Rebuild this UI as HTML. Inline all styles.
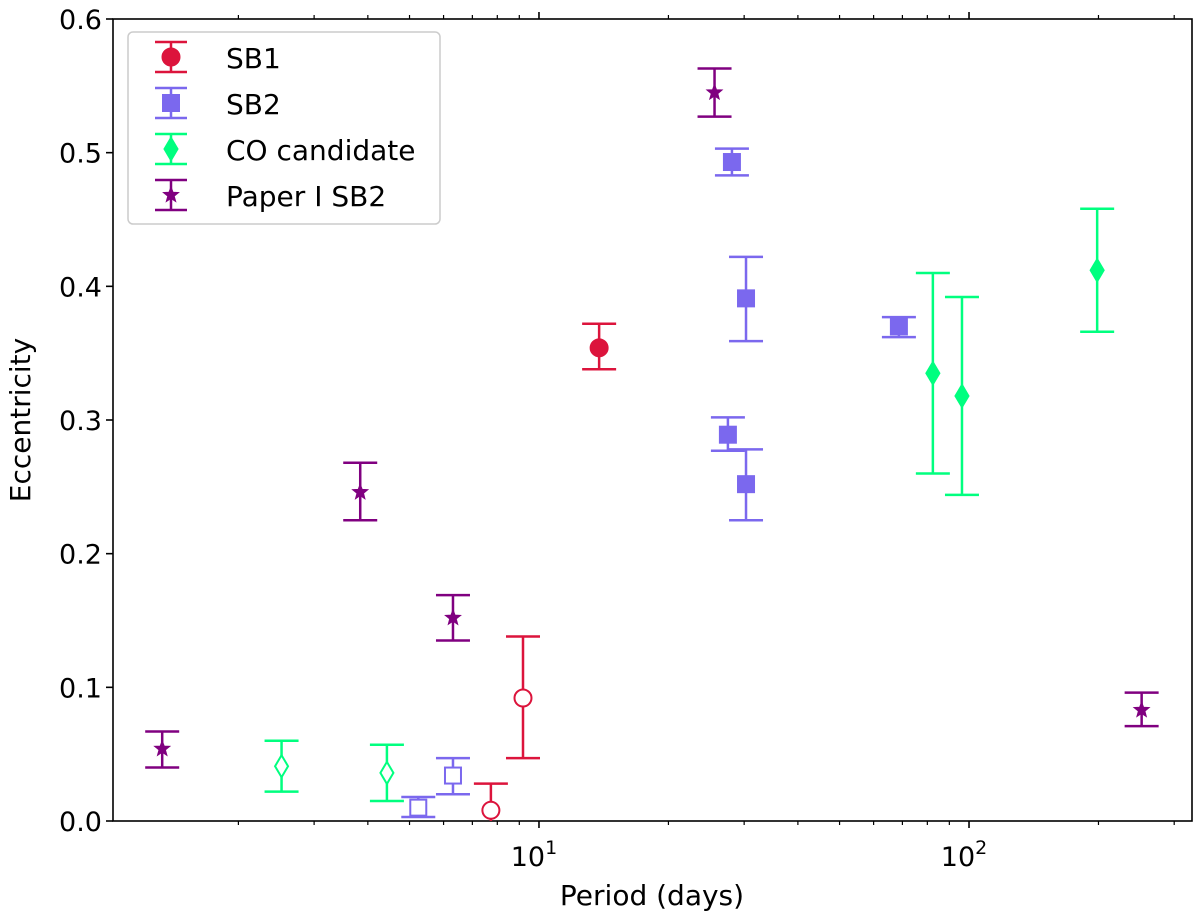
<!DOCTYPE html>
<html><head><meta charset="utf-8"><style>
html,body{margin:0;padding:0;background:#fff;}
svg{display:block;font-family:"DejaVu Sans","Liberation Sans",sans-serif;}
</style></head><body>
<svg id="chart" width="1200" height="923" viewBox="0 0 1200 923">
<defs><clipPath id="plotclip"><rect x="113" y="19" width="1079" height="802"/></clipPath></defs>
<g id="axes"></g>
<g id="marks" clip-path="url(#plotclip)"></g>
<g id="legend"></g>
</svg>
<script>
const sb1Period=[13.8,9.18,7.73];
const sb1Ecc=[0.354,0.092,0.008];
const sb1Lo=[0.338,0.047,-0.012];
const sb1Hi=[0.372,0.138,0.028];
const sb1Open=[false,true,true];
const sb2Period=[28.1,30.3,27.5,30.3,68.7,5.24,6.31];
const sb2Ecc=[0.493,0.391,0.289,0.252,0.370,0.010,0.034];
const sb2Lo=[0.483,0.359,0.277,0.225,0.362,0.003,0.020];
const sb2Hi=[0.503,0.422,0.302,0.278,0.377,0.018,0.047];
const sb2Open=[false,false,false,false,false,true,true];
const coPeriod=[82.4,96.3,198.6,2.52,4.43];
const coEcc=[0.335,0.318,0.412,0.041,0.036];
const coLo=[0.260,0.244,0.366,0.022,0.015];
const coHi=[0.410,0.392,0.458,0.060,0.057];
const coOpen=[false,false,false,true,true];
const p1Period=[1.33,3.84,6.31,25.6,252];
const p1Ecc=[0.054,0.246,0.152,0.545,0.083];
const p1Lo=[0.040,0.225,0.135,0.527,0.071];
const p1Hi=[0.067,0.268,0.169,0.563,0.096];
const yTicks=[0,0.1,0.2,0.3,0.4,0.5,0.6];
const yTickLabels=["0.0","0.1","0.2","0.3","0.4","0.5","0.6"];
const xMajor=[10,100];

const L=113,R=1192,T=19,B=821;
const xMin=1.022,xMax=330;
function xs(v){return L+(Math.log10(v)-Math.log10(xMin))/(Math.log10(xMax)-Math.log10(xMin))*(R-L);}
function ys(v){return B-(v-0)/(0.6-0)*(B-T);}
const NS="http://www.w3.org/2000/svg";
function mk(tag,attrs,parent){const e=document.createElementNS(NS,tag);for(const k in attrs)e.setAttribute(k,attrs[k]);parent.appendChild(e);return e;}
const axes=document.getElementById('axes'),marks=document.getElementById('marks'),legend=document.getElementById('legend');

const fr=mk('rect',{x:L,y:T,width:R-L,height:B-T,fill:'none',stroke:'#000','stroke-width':1.6},axes);


yTicks.forEach((v,i)=>{
 const y=ys(v);
 const t=mk('line',{x1:L-7,x2:L,y1:y,y2:y,stroke:'#000','stroke-width':1.6},axes);
 
 
 const tx=mk('text',{x:L-11,y:y+10,'text-anchor':'end','font-size':27},axes);
 tx.textContent=yTickLabels[i];
 
 
});
for(let d=0;d<=2;d++){for(let m=1;m<=9;m++){
 const v=m*Math.pow(10,d); if(v<xMin||v>xMax)continue;
 const x=xs(v); const major=(m===1);
 const len=major?7:4;
 const t1=mk('line',{x1:x,x2:x,y1:B,y2:B+len,stroke:'#000','stroke-width':major?1.6:1.2},axes);
 
 
 const t2=mk('line',{x1:x,x2:x,y1:T,y2:T-len,stroke:'#000','stroke-width':major?1.6:1.2},axes);
 
 
}}
xMajor.forEach(v=>{
 const x=xs(v);
 const tx=mk('text',{x:x-5,y:B+45,'text-anchor':'middle','font-size':27},axes);
 tx.textContent='10';
 const sup=mk('tspan',{dy:-12,'font-size':19},tx);
 sup.textContent=String(Math.round(Math.log10(v)));
 
 
});
const xl=mk('text',{x:652,y:905,'text-anchor':'middle','font-size':28},axes);
xl.textContent='Period (days)';


const yl=mk('text',{x:30,y:(T+B)/2,'text-anchor':'middle','font-size':28,transform:`rotate(-90 30 ${(T+B)/2})`},axes);
yl.textContent='Eccentricity';



function marker(shape,cx,cy,color,open,parent,s){
 s=s||1;
 let e;
 const fill=open?'#fff':color;
 if(shape==='circle')e=mk('circle',{cx,cy,r:8.5*s,fill,stroke:color,'stroke-width':2},parent);
 else if(shape==='square')e=mk('rect',{x:cx-8*s,y:cy-8*s,width:16*s,height:16*s,fill,stroke:color,'stroke-width':2},parent);
 else if(shape==='diamond'){const w=6.5*s,h=11*s;e=mk('polygon',{points:`${cx},${cy-h} ${cx+w},${cy} ${cx},${cy+h} ${cx-w},${cy}`,fill,stroke:color,'stroke-width':2},parent);}
 else {let pts=[];for(let i=0;i<10;i++){const a=-Math.PI/2+i*Math.PI/5;const r=(i%2?3.4:8)*s;pts.push((cx+r*Math.cos(a)).toFixed(1)+','+(cy+r*Math.sin(a)).toFixed(1));}
  e=mk('polygon',{points:pts.join(' '),fill,stroke:color,'stroke-width':1},parent);}
 return e;
}
function errbar(x,lo,hi,color,parent){
 const g=mk('g',{},parent);
 mk('line',{x1:x,x2:x,y1:ys(lo),y2:ys(hi),stroke:color,'stroke-width':2.5},g);
 mk('line',{x1:x-17,x2:x+17,y1:ys(lo),y2:ys(lo),stroke:color,'stroke-width':2.5},g);
 mk('line',{x1:x-17,x2:x+17,y1:ys(hi),y2:ys(hi),stroke:color,'stroke-width':2.5},g);
 return g;
}
function series(name,P,E,Lo,Hi,Op,color,shape){
 P.forEach((p,i)=>{
  const g=mk('g',{},marks);
  
  
  const x=xs(p);
  errbar(x,Lo[i],Hi[i],color,g);
  marker(shape,x,ys(E[i]),color,Op?Op[i]:false,g);
 });
}
series('sb1',sb1Period,sb1Ecc,sb1Lo,sb1Hi,sb1Open,'#dc143c','circle');
series('sb2',sb2Period,sb2Ecc,sb2Lo,sb2Hi,sb2Open,'#7b68ee','square');
series('co-candidate',coPeriod,coEcc,coLo,coHi,coOpen,'#00ff7f','diamond');
series('paper1-sb2',p1Period,p1Ecc,p1Lo,p1Hi,null,'#800080','star');

const lb=mk('rect',{x:128,y:32,width:312,height:192,rx:5,fill:'#fff','fill-opacity':0.8,stroke:'#ccc','stroke-width':1.5},legend);


const entries=[['SB1','#dc143c','circle'],['SB2','#7b68ee','square'],['CO candidate','#00ff7f','diamond'],['Paper I SB2','#800080','star']];
entries.forEach((en,i)=>{
 const cy=57+i*46;
 const g=mk('g',{},legend);
 
 
 mk('line',{x1:171,x2:171,y1:cy-15,y2:cy+15,stroke:en[1],'stroke-width':2.5},g);
 mk('line',{x1:155,x2:187,y1:cy-15,y2:cy-15,stroke:en[1],'stroke-width':2.5},g);
 mk('line',{x1:155,x2:187,y1:cy+15,y2:cy+15,stroke:en[1],'stroke-width':2.5},g);
 marker(en[2],171,cy,en[1],false,g);
 const t=mk('text',{x:226,y:cy+11,'font-size':28},g);
 t.textContent=en[0];
});
</script>
</body></html>
